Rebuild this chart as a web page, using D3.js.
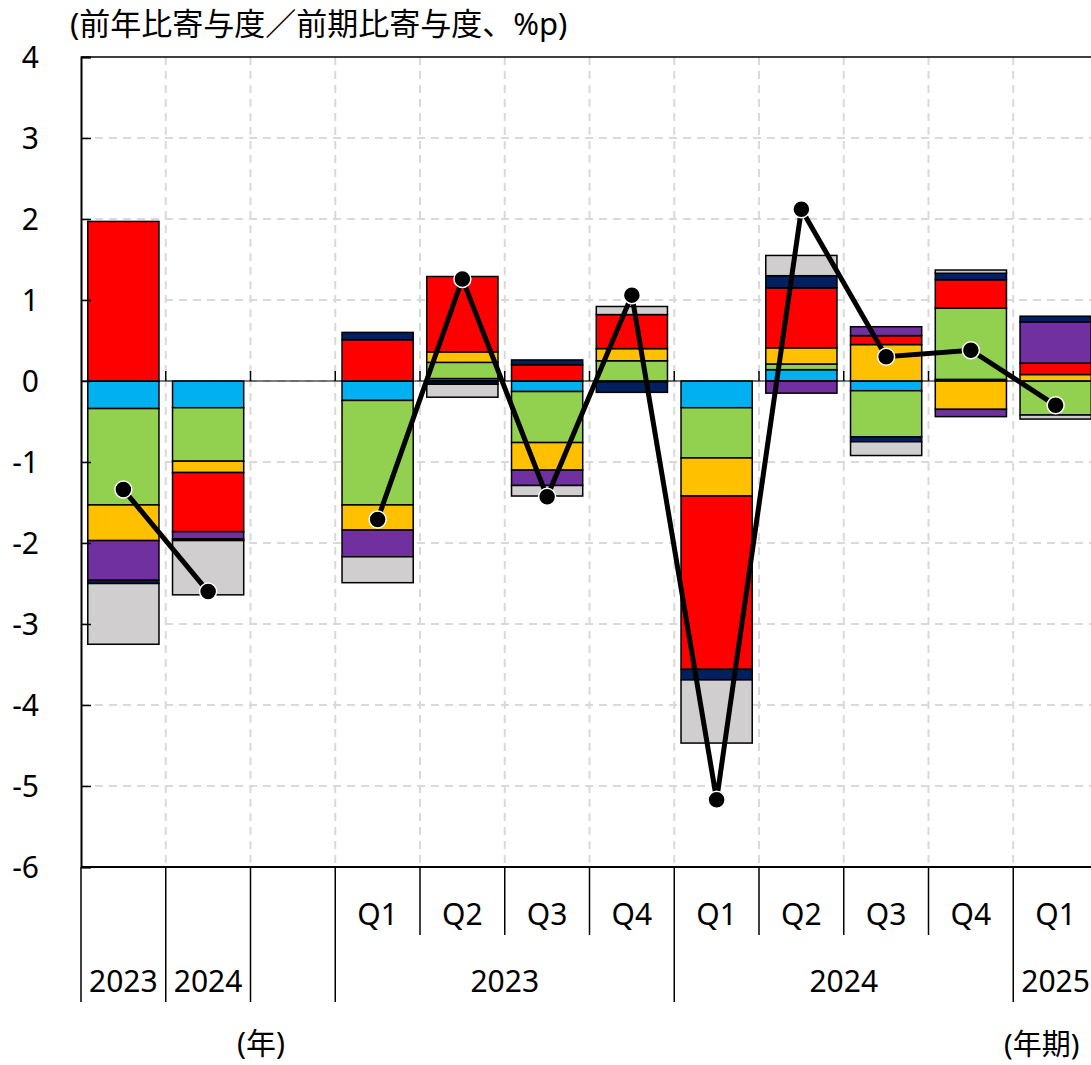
<!DOCTYPE html>
<html>
<head>
<meta charset="utf-8">
<script src="https://cdn.jsdelivr.net/npm/d3@7"></script>
<style>
  body { margin: 0; background: #fff; }
  text { font-family: "Noto Sans", "Noto Sans CJK JP", sans-serif; }
</style>
</head>
<body>
<div class="canvas"></div>
<script>
// slots: 2 annual, 1 empty, 9 quarterly
const categories = ["2023", "2024", "", "Q1", "Q2", "Q3", "Q4", "Q1", "Q2", "Q3", "Q4", "Q1"];
const yearGroups = [
  { label: "2023", from: 3, to: 6 },
  { label: "2024", from: 7, to: 10 },
  { label: "2025", from: 11, to: 11 },
];
const yTicks = [4, 3, 2, 1, 0, -1, -2, -3, -4, -5, -6];

const seriesKeys = ["s1", "s2", "s3", "s4", "s5", "s6", "s7"];
const colors = ["#00b0f0", "#92d050", "#ffc000", "#ff0000", "#7030a0", "#002060", "#d0cece"];

const s1 = [-0.34, -0.33, null, -0.24, 0.03, -0.13, -0.01, -0.33, 0.14, -0.12, 0.02, 0];
const s2 = [-1.19, -0.66, null, -1.29, 0.2, -0.63, 0.25, -0.62, 0.07, -0.57, 0.88, -0.42];
const s3 = [-0.44, -0.14, null, -0.31, 0.13, -0.34, 0.15, -0.47, 0.2, 0.45, -0.35, 0.08];
const s4 = [1.97, -0.73, null, 0.51, 0.93, 0.2, 0.42, -2.14, 0.74, 0.11, 0.35, 0.14];
const s5 = [-0.49, -0.09, null, -0.33, -0.01, -0.19, 0, 0, -0.15, 0.11, -0.09, 0.51];
const s6 = [-0.04, -0.02, null, 0.09, -0.03, 0.06, -0.13, -0.13, 0.15, -0.06, 0.08, 0.07];
const s7 = [-0.75, -0.67, null, -0.32, -0.16, -0.13, 0.1, -0.78, 0.25, -0.17, 0.04, -0.05];
const total = [-1.34, -2.6, null, -1.71, 1.26, -1.43, 1.06, -5.17, 2.12, 0.3, 0.38, -0.3];

const seriesValues = [s1, s2, s3, s4, s5, s6, s7];

const table = categories.map((c, i) => {
  const row = { i: i };
  seriesKeys.forEach((k, j) => (row[k] = seriesValues[j][i] || 0));
  return row;
});

const W = 1091, H = 1065;
const pLeft = 81, pRight = 1098, pTop = 57, pBottom = 867;

const svg = d3.select(".canvas").append("svg").attr("width", W).attr("height", H);

const x = d3.scaleBand()
  .domain(categories.map((c, i) => i))
  .range([pLeft, pRight])
  .paddingInner(0.16)
  .paddingOuter(0.08);
const step = x.step();
const edge = (i) => pLeft + i * step; // left boundary of slot i

const y = d3.scaleLinear().domain([-6, 4]).range([pBottom, pTop]);

// grid
const grid = svg.append("g").attr("stroke", "#d9d9d9").attr("stroke-width", 2).attr("stroke-dasharray", "8,6");
grid.selectAll("line.h")
  .data(yTicks.filter((d) => d !== 4 && d !== -6))
  .enter().append("line")
  .attr("x1", pLeft).attr("x2", pRight)
  .attr("y1", (d) => y(d)).attr("y2", (d) => y(d));
grid.selectAll("line.v")
  .data(d3.range(1, categories.length))
  .enter().append("line")
  .attr("x1", (d) => edge(d)).attr("x2", (d) => edge(d))
  .attr("y1", pTop).attr("y2", pBottom);

// stacked bars
const stacked = d3.stack().keys(seriesKeys).offset(d3.stackOffsetDiverging)(table);

svg.append("g")
  .selectAll("g")
  .data(stacked)
  .enter().append("g")
  .attr("fill", (d, i) => colors[i])
  .selectAll("rect")
  .data((d) => d.filter((p) => p[1] - p[0] !== 0))
  .enter().append("rect")
  .attr("x", (d) => x(d.data.i))
  .attr("width", x.bandwidth())
  .attr("y", (d) => y(Math.max(d[0], d[1])))
  .attr("height", (d) => Math.abs(y(d[0]) - y(d[1])))
  .attr("stroke", "#000")
  .attr("stroke-width", 1.5);

// zero line with small ticks
svg.append("line")
  .attr("x1", pLeft).attr("x2", pRight)
  .attr("y1", y(0)).attr("y2", y(0))
  .attr("stroke", "#000").attr("stroke-width", 1.2);
svg.append("g").selectAll("line")
  .data(d3.range(1, categories.length))
  .enter().append("line")
  .attr("x1", (d) => edge(d)).attr("x2", (d) => edge(d))
  .attr("y1", y(0)).attr("y2", y(0) - 10)
  .attr("stroke", "#000").attr("stroke-width", 1.5);

// frame
svg.append("line").attr("x1", pLeft).attr("x2", pRight).attr("y1", pTop).attr("y2", pTop)
  .attr("stroke", "#000").attr("stroke-width", 1.5);
svg.append("line").attr("x1", pLeft).attr("x2", pRight).attr("y1", pBottom).attr("y2", pBottom)
  .attr("stroke", "#000").attr("stroke-width", 2);

// y axis
const yAxis = svg.append("g").attr("transform", `translate(${pLeft},0)`)
  .call(d3.axisRight(y).tickValues(yTicks).tickSize(10).tickFormat(""));
yAxis.select(".domain").attr("stroke-width", 2);
yAxis.selectAll(".tick line").attr("stroke-width", 1.5);

svg.append("g").selectAll("text")
  .data(yTicks)
  .enter().append("text")
  .attr("x", 39)
  .attr("y", (d) => y(d) + 11)
  .attr("text-anchor", "end")
  .attr("font-size", 30)
  .attr("fill", "#000")
  .text((d) => d);

// total line
const line = d3.line()
  .defined((d) => d !== null)
  .x((d, i) => x(i) + x.bandwidth() / 2)
  .y((d) => y(d));
svg.append("path")
  .datum(total)
  .attr("fill", "none")
  .attr("stroke", "#000")
  .attr("stroke-width", 5)
  .attr("d", line);
svg.append("g").selectAll("circle")
  .data(total.map((v, i) => ({ v, i })).filter((d) => d.v !== null))
  .enter().append("circle")
  .attr("cx", (d) => x(d.i) + x.bandwidth() / 2)
  .attr("cy", (d) => y(d.v))
  .attr("r", 8.5)
  .attr("fill", "#000")
  .attr("stroke", "#fff")
  .attr("stroke-width", 1.5);

// category axis
const qBottom = 935, yBottom = 1002;
const isLong = (b) => b <= 3 || b === 7 || b === 11 || b === 12;
svg.append("g").selectAll("line")
  .data(d3.range(0, categories.length + 1))
  .enter().append("line")
  .attr("x1", (d) => edge(d))
  .attr("x2", (d) => edge(d))
  .attr("y1", pBottom)
  .attr("y2", (d) => (isLong(d) ? yBottom : qBottom))
  .attr("stroke", "#000").attr("stroke-width", 1.5);

svg.append("g").selectAll("text")
  .data(categories.map((c, i) => ({ c, i })).filter((d) => d.c !== ""))
  .enter().append("text")
  .attr("x", (d) => x(d.i) + x.bandwidth() / 2)
  .attr("y", (d) => (d.i < 2 ? 992 : 925))
  .attr("text-anchor", "middle")
  .attr("font-size", 30)
  .text((d) => d.c);

svg.append("g").selectAll("text")
  .data(yearGroups)
  .enter().append("text")
  .attr("x", (d) => (edge(d.from) + edge(d.to + 1)) / 2)
  .attr("y", 992)
  .attr("text-anchor", "middle")
  .attr("font-size", 30)
  .text((d) => d.label);

// titles
svg.append("text").attr("x", 70).attr("y", 35).attr("font-size", 31)
  .text("(前年比寄与度／前期比寄与度、%p)");
svg.append("text").attr("x", 237).attr("y", 1054).attr("font-size", 30).text("(年)");
svg.append("text").attr("x", 1004).attr("y", 1055).attr("font-size", 29).text("(年期)");
</script>
</body>
</html>
